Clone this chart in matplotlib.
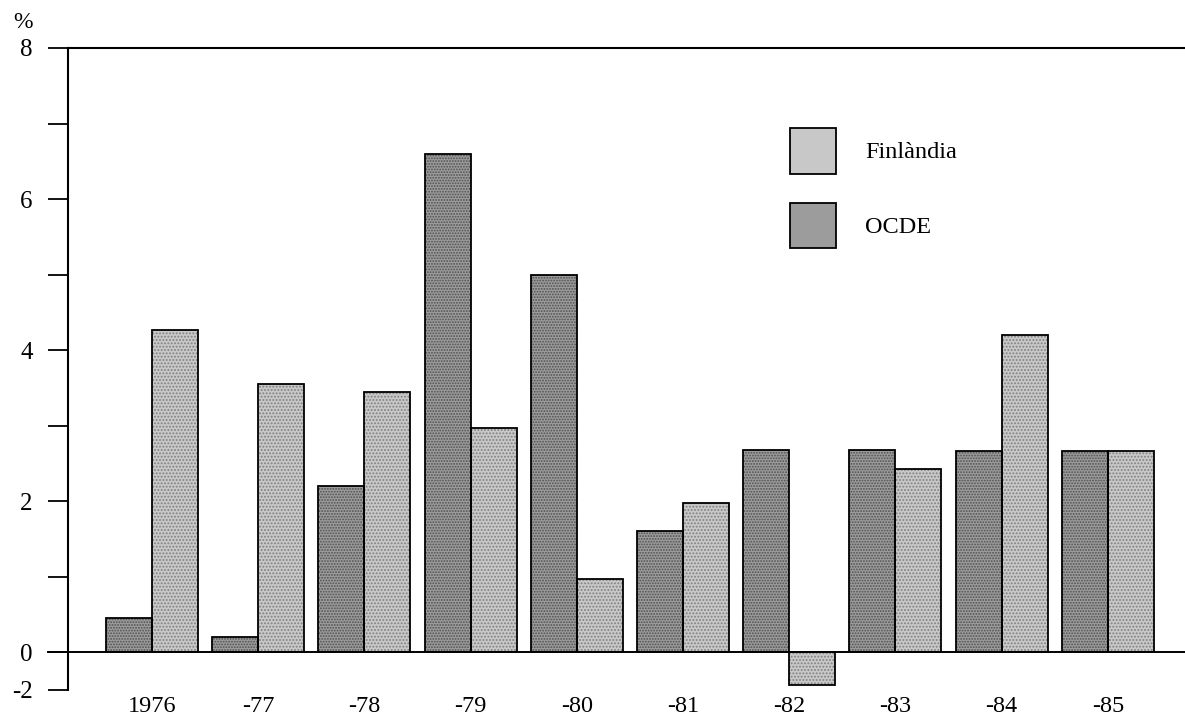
#!/usr/bin/env python3
import numpy as np
import matplotlib
matplotlib.use("Agg")
import matplotlib.pyplot as plt

years = ["1976", "-77", "-78", "-79", "-80", "-81", "-82", "-83", "-84", "-85"]
ocde = [0.45, 0.2, 2.2, 6.6, 5.0, 1.6, 2.68, 2.68, 2.67, 2.67]
finlandia = [4.27, 3.55, 3.45, 2.97, 0.97, 1.97, -0.43, 2.43, 4.2, 2.67]
ytick_vals = [-0.5, 0, 1, 2, 3, 4, 5, 6, 7, 8]
ytick_labels = ["-2", "0", "", "2", "", "4", "", "6", "", "8"]

plt.rcParams["font.family"] = ["Liberation Serif", "DejaVu Serif"]
plt.rcParams["hatch.linewidth"] = 0.9

fig = plt.figure(figsize=(11.85, 7.17), dpi=100)
ax = fig.add_axes([68 / 1185, 1 - 690 / 717, 1117 / 1185, 642 / 717])

x = np.arange(len(years))
w = 0.433
c_ocde = "#9c9c9c"
c_fin = "#c8c8c8"

# halftone look: grey fill + fine dot hatch, then black outline on top
ax.bar(x - w / 2, ocde, w, color=c_ocde, edgecolor="#505050", hatch="......", linewidth=0)
ax.bar(x + w / 2, finlandia, w, color=c_fin, edgecolor="#808080", hatch=".....", linewidth=0)
ax.bar(x - w / 2, ocde, w, fill=False, edgecolor="black", linewidth=1.3)
ax.bar(x + w / 2, finlandia, w, fill=False, edgecolor="black", linewidth=1.3)

ax.set_xlim(-0.791, 9.727)
ax.set_ylim(-0.5, 8)

ax.spines["right"].set_visible(False)
ax.spines["bottom"].set_visible(False)
ax.spines["left"].set_linewidth(1.5)
ax.spines["top"].set_linewidth(1.5)

ax.axhline(0, xmin=-0.018, xmax=1, color="black", linewidth=1.4, clip_on=False)

ax.set_yticks(ytick_vals)
ax.set_yticklabels(ytick_labels)
ax.tick_params(axis="y", length=14.4, width=1.3, pad=11, labelsize=18)
ax.set_xticks(x)
ax.set_xticklabels(years)
ax.tick_params(axis="x", length=0, pad=4, labelsize=17.5)

ax.text(-0.04, 1.04, "%", transform=ax.transAxes, fontsize=17, ha="center", va="center")

# legend built from proxy patches
h1 = plt.Rectangle((0, 0), 1, 1, facecolor=c_fin, edgecolor="black", linewidth=1.3)
h2 = plt.Rectangle((0, 0), 1, 1, facecolor=c_ocde, edgecolor="black", linewidth=1.3)
ax.legend([h1, h2], ["Finlàndia", "OCDE"], loc="upper left",
          bbox_to_anchor=(0.646, 0.875), frameon=False, fontsize=17.5,
          handlelength=1.9, handleheight=2.5, labelspacing=1.2,
          handletextpad=1.2, borderpad=0, borderaxespad=0)

fig.savefig("out.png", dpi=100)
